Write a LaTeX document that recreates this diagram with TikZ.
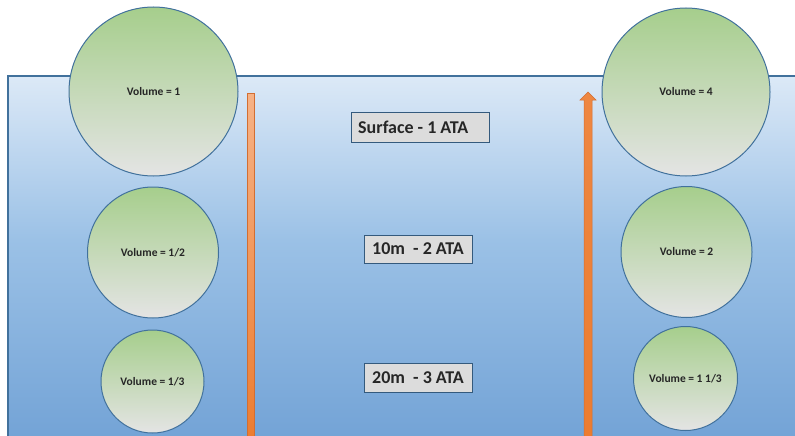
\documentclass[tikz,border=0pt]{standalone}
\usepackage{fontspec}
\setmainfont{Carlito}
\definecolor{edgeblue}{RGB}{65,113,156}
\definecolor{waterA}{RGB}{220,233,247}
\definecolor{waterB}{RGB}{155,193,230}
\definecolor{waterC}{RGB}{115,163,214}
\definecolor{greenA}{RGB}{166,206,140}
\definecolor{grayB}{RGB}{228,228,228}
\definecolor{orangeA}{RGB}{246,178,134}
\definecolor{orangeB}{RGB}{236,124,48}
\definecolor{orangeE}{RGB}{210,110,50}
\definecolor{boxfill}{RGB}{220,220,220}
\tikzset{
  bubble/.style={circle, draw=edgeblue, line width=1pt, top color=greenA, bottom color=grayB,
    inner sep=0pt, font=\bfseries\fontsize{11.5}{13}\selectfont, text=black!85},
  atabox/.style={draw=edgeblue!80!black, line width=1pt, fill=boxfill, inner sep=0pt,
    font=\bfseries\fontsize{18}{21}\selectfont, text=black!85},
  atatext/.style={inner sep=0pt, font=\bfseries\fontsize{18}{21}\selectfont, text=black!85},
}
\begin{document}
\begin{tikzpicture}[x=1pt,y=-1pt]
\useasboundingbox (0,0) rectangle (795,436);
\clip (0,0) rectangle (795,436);
% water
\shade[top color=waterA, bottom color=waterB] (8,76) rectangle (800,240);
\shade[top color=waterB, bottom color=waterC] (8,239.5) rectangle (800,440);
\draw[edgeblue, line width=1.2pt] (8,440) -- (8,76) -- (800,76);
% left bar
\draw[orangeE, line width=0.5pt, top color=orangeA, bottom color=orangeB] (247,93) rectangle (254,440);
% right arrow
\draw[orangeE, line width=0.5pt, top color=orangeB!80!orangeA, bottom color=orangeB]
  (584,440) -- (584,100) -- (580,100) -- (588,92) -- (596,100) -- (592,100) -- (592,440) -- cycle;
% bubbles
\node[bubble, minimum size=169pt] (v1) at (153.5,91.5) {Volume = 1};
\node[bubble, minimum size=131pt] (v2) at (153,252.5) {Volume = 1/2};
\node[bubble, minimum size=103pt] (v3) at (152.5,381.5) {Volume = 1/3};
\node[bubble, minimum size=168pt] (v4) at (686,92) {Volume = 4};
\node[bubble, minimum size=131pt] (v5) at (686.5,252) {Volume = 2};
\node[bubble, minimum size=104pt] (v6) at (685.5,378.5) {Volume = 1 1/3};
% boxes
\node[atabox, minimum width=138pt, minimum height=30pt] (b1) at (420,127) {};
\node[atatext, anchor=west] (t1) at (358,127) {Surface - 1 ATA};
\node[atabox, minimum width=108pt, minimum height=28pt] (b2) at (418,249) {10m \ - 2 ATA};
\node[atabox, minimum width=108pt, minimum height=29pt] (b3) at (418,377.5) {20m \ - 3 ATA};
\end{tikzpicture}
\end{document}
